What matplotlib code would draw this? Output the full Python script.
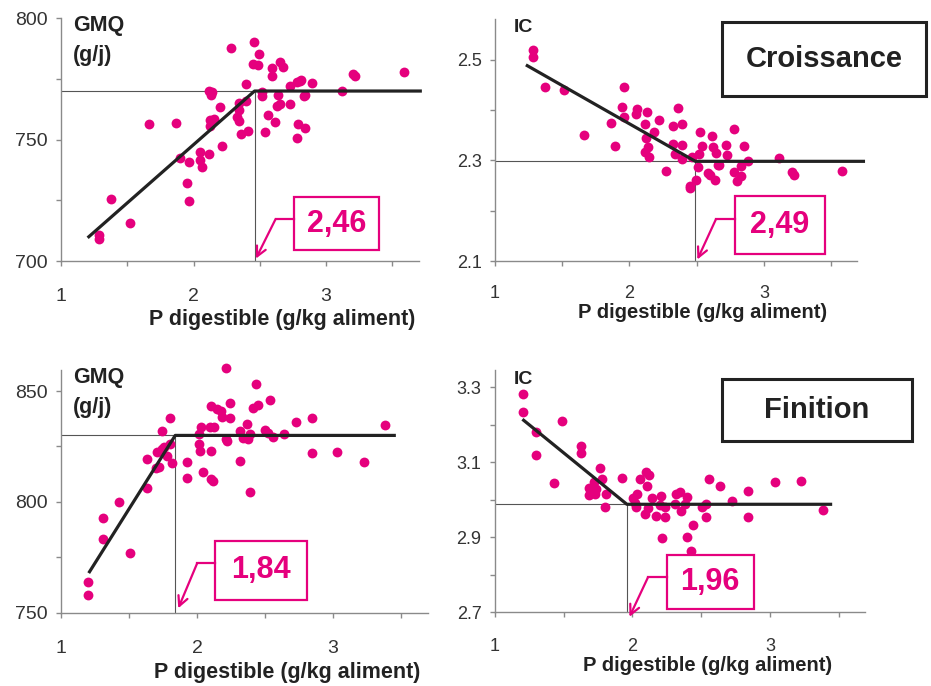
import matplotlib
matplotlib.use('Agg')
from matplotlib import pyplot as plt
from matplotlib.patches import Rectangle

plt.rcParams['font.family'] = ['Liberation Sans', 'DejaVu Sans']

PINK = '#E5007D'
GREY = '#8a8a8a'
TXT = '#333333'

# %% data
# Croissance - GMQ
gc_x = [2.453, 2.285, 2.496, 2.448, 2.486, 2.649, 2.593, 2.674, 2.593, 3.20, 3.22, 3.585,
        2.395, 2.80, 2.81, 2.78, 2.89, 2.724, 3.12, 2.12, 2.137, 2.13, 2.516, 2.513, 2.64,
        2.84, 2.83, 2.197, 2.34, 2.395, 2.626, 2.649, 2.724, 2.34, 2.325, 2.34, 2.127, 2.154,
        2.127, 1.665, 1.868, 2.558, 2.614, 2.787, 2.842, 2.78, 2.54, 2.358, 2.408, 2.217,
        2.051, 2.12, 1.898, 1.966, 2.051, 2.064, 1.954, 1.966, 1.381, 1.524, 1.289, 1.289]
gc_y = [790.0, 787.6, 785.3, 781.2, 780.6, 782.0, 779.3, 779.8, 776.2, 776.9, 776.2, 778.0,
        772.7, 774.2, 774.5, 773.8, 773.2, 772.1, 770.2, 770.2, 769.4, 768.4, 769.4, 767.8, 768.4,
        768.4, 767.8, 763.6, 765.0, 766.1, 763.9, 764.7, 764.7, 762.2, 759.5, 757.8, 758.2, 758.6,
        755.5, 756.3, 756.9, 760.2, 757.1, 756.6, 754.8, 750.7, 753.0, 752.3, 753.7, 747.4,
        745.1, 744.0, 742.4, 740.9, 741.5, 738.9, 732.3, 724.6, 725.7, 715.5, 710.6, 708.9]
gc_fit_x = [1.21, 2.46, 3.71]
gc_fit_y = [710, 770, 770]
gc_break = '2,46'

# Croissance - IC
ic_x = [1.283, 1.283, 1.37, 1.511, 1.96, 1.948, 1.96, 1.665, 1.861, 1.893, 2.057, 2.047,
        2.129, 2.216, 2.112, 2.184, 2.122, 2.136, 2.112, 2.146, 2.36, 2.327, 2.392, 2.327,
        2.335, 2.392, 2.392, 2.27, 2.464, 2.514, 2.506, 2.524, 2.543, 2.613, 2.618, 2.643,
        2.66, 2.72, 2.722, 2.774, 2.849, 2.826, 2.831, 2.777, 2.799, 2.883, 2.583, 2.596,
        2.633, 2.494, 2.447, 2.452, 3.109, 3.206, 3.223, 3.58, 2.667]
ic_y = [2.520, 2.505, 2.446, 2.439, 2.446, 2.406, 2.386, 2.351, 2.374, 2.328, 2.401, 2.392,
        2.395, 2.381, 2.372, 2.357, 2.345, 2.327, 2.317, 2.306, 2.403, 2.368, 2.372, 2.332,
        2.313, 2.331, 2.302, 2.279, 2.306, 2.312, 2.287, 2.357, 2.328, 2.348, 2.326, 2.314,
        2.290, 2.330, 2.310, 2.362, 2.328, 2.288, 2.269, 2.276, 2.259, 2.298, 2.275, 2.271,
        2.261, 2.261, 2.249, 2.245, 2.305, 2.276, 2.270, 2.279, 2.290]
ic_fit_x = [1.24, 2.49, 3.74]
ic_fit_y = [2.488, 2.298, 2.298]
ic_break = '2,49'

# Finition - GMQ
gf_x = [2.212, 2.434, 2.535, 2.102, 2.148, 2.177, 2.241, 2.449, 2.412, 2.182, 2.246, 1.805,
        2.364, 2.726, 2.846, 3.382, 2.028, 2.016, 2.094, 2.126, 1.739, 2.319, 2.498, 2.523,
        2.559, 2.393, 2.339, 2.376, 2.212, 2.217, 2.64, 1.80, 1.756, 1.776, 1.739, 1.703,
        2.016, 2.023, 2.102, 1.632, 1.815, 1.93, 2.319, 2.846, 3.027, 3.23, 1.698, 1.722,
        2.045, 1.93, 2.102, 2.114, 1.632, 2.393, 1.426, 1.311, 1.311, 1.504, 1.201, 1.201]
gf_y = [860.2, 853.0, 846.2, 843.1, 841.9, 841.1, 844.4, 843.7, 842.3, 838.1, 837.8, 837.8,
        835.1, 835.9, 837.8, 834.7, 833.8, 830.6, 833.8, 833.8, 832.0, 832.0, 832.4, 830.9,
        829.2, 830.5, 828.9, 828.3, 828.3, 827.7, 830.5, 826.1, 824.6, 820.5, 823.8, 822.5,
        826.1, 822.8, 822.9, 819.3, 817.4, 818.0, 818.6, 821.9, 822.6, 818.0, 815.4, 815.9,
        813.3, 810.8, 810.2, 809.4, 806.1, 804.6, 800.0, 792.9, 783.1, 777.1, 764.0, 758.0]
gf_fit_x = [1.21, 1.84, 3.45]
gf_fit_y = [768.5, 830, 830]
gf_break = '1,84'

# Finition - IC
if_x = [1.206, 1.206, 1.492, 1.298, 1.298, 1.63, 1.63, 1.427, 1.766, 1.718, 1.778, 1.686,
        1.71, 1.735, 1.686, 1.73, 1.812, 1.798, 1.928, 2.055, 2.10, 2.12, 2.108, 2.033, 2.008,
        2.016, 2.023, 2.142, 2.207, 2.11, 2.093, 2.171, 2.202, 2.234, 2.234, 2.307, 2.316,
        2.343, 2.396, 2.384, 2.355, 2.215, 2.396, 2.44, 2.428, 2.505, 2.535, 2.535, 2.556,
        2.639, 2.724, 2.842, 2.842, 3.034, 3.223, 3.383]
if_y = [3.282, 3.233, 3.211, 3.180, 3.120, 3.144, 3.125, 3.046, 3.086, 3.047, 3.055, 3.031,
        3.022, 3.029, 3.012, 3.016, 3.016, 2.980, 3.057, 3.055, 3.075, 3.066, 3.036, 3.016, 3.006,
        2.991, 2.982, 3.004, 3.009, 2.978, 2.963, 2.958, 2.985, 2.980, 2.954, 2.988, 3.016,
        3.022, 3.007, 2.989, 2.971, 2.898, 2.902, 2.933, 2.864, 2.980, 2.988, 2.954, 3.055,
        3.036, 2.996, 3.023, 2.954, 3.047, 3.051, 2.972]
if_fit_x = [1.21, 1.96, 3.44]
if_fit_y = [3.212, 2.988, 2.988]
if_break = '1,96'

x_ticks = [1, 2, 3]
x_minor = [1.5, 2.5, 3.5]


# %%
def draw_panel(rect, px, py, fit_x, fit_y, brk, xmax, ylim, yticks, ylabels, yminor,
               box, arrow_y, knee_x, tip, fs, xpad, lab_x, lab_off):
	ax = fig.add_axes(rect)
	ax.set_xlim(1, xmax)
	ax.set_ylim(*ylim)
	for s in ['top', 'right']:
		ax.spines[s].set_visible(False)
	for s in ['left', 'bottom']:
		ax.spines[s].set_color(GREY)
		ax.spines[s].set_linewidth(1)
	ax.set_xticks(x_ticks)
	ax.set_xticks(x_minor, minor=True)
	ax.set_yticks(yticks)
	ax.set_yticklabels(ylabels)
	ax.set_yticks(yminor, minor=True)
	ax.tick_params(which='both', direction='out', length=3.5, width=1, color=GREY, labelcolor=TXT,
				   labelsize=fs)
	ax.tick_params(axis='x', pad=xpad)
	ax.tick_params(axis='y', pad=6)

	# guide lines at the break point
	ax.plot([1, fit_x[1]], [fit_y[1], fit_y[1]], color='#555555', lw=0.8, zorder=1)
	ax.plot([fit_x[1], fit_x[1]], [ylim[0], fit_y[1]], color='#555555', lw=0.8, zorder=1)

	ax.scatter(px, py, s=50, color=PINK, linewidths=0, zorder=3, clip_on=False)
	ax.plot(fit_x, fit_y, color='#222222', lw=2.3, zorder=4, clip_on=False)

	# value box with arrow
	bx0, by0, bx1, by1 = box
	ax.add_patch(Rectangle((bx0, by0), bx1 - bx0, by1 - by0, facecolor='white',
						   edgecolor=PINK, lw=1.6, zorder=5))
	ax.text((bx0 + bx1) / 2, (by0 + by1) / 2, brk, color=PINK, fontsize=22, fontweight='bold',
			ha='center', va='center', zorder=6)
	ax.plot([bx0, knee_x], [arrow_y, arrow_y], color=PINK, lw=1.6, zorder=5)
	ax.annotate('', xy=tip, xytext=(knee_x, arrow_y),
				arrowprops=dict(arrowstyle='->,head_length=0.7,head_width=0.35', color=PINK, lw=1.6,
								shrinkA=0, shrinkB=0), zorder=5, annotation_clip=False)

	ax.annotate('P digestible (g/kg aliment)', xy=(lab_x, 0), xycoords='axes fraction',
				xytext=(0, -lab_off), textcoords='offset points', ha='center', va='center',
				fontsize=fs + 1.5, fontweight='bold', color='#222222')
	return ax


fig = plt.figure(figsize=(9.31, 6.86), dpi=100)

ax1 = draw_panel([0.0655, 0.6195, 0.3845, 0.354], gc_x, gc_y, gc_fit_x, gc_fit_y, gc_break,
				 3.70, (700, 800), [700, 750, 800], ['700', '750', '800'], [725, 775],
				 (2.756, 704.5, 3.396, 726.3), 717.3, 2.619, (2.47, 701.0), 14, 16, 0.617, 42)
ax1.text(0.034, 1.012, 'GMQ', transform=ax1.transAxes, fontsize=15.5, fontweight='bold',
		 color='#222222', va='top')
ax1.text(0.034, 0.89, '(g/j)', transform=ax1.transAxes, fontsize=15.5, fontweight='bold',
		 color='#222222', va='top')

ax2 = draw_panel([0.5317, 0.6195, 0.3885, 0.3523], ic_x, ic_y, ic_fit_x, ic_fit_y, ic_break,
				 3.69, (2.1, 2.58), [2.1, 2.3, 2.5], ['2.1', '2.3', '2.5'], [2.2, 2.4],
				 (2.782, 2.114, 3.457, 2.229), 2.183, 2.643, (2.505, 2.103), 13, 14, 0.575, 37)
ax2.text(0.053, 1.0, 'IC', transform=ax2.transAxes, fontsize=14, fontweight='bold',
		 color='#222222', va='top')

ax3 = draw_panel([0.0655, 0.1068, 0.3945, 0.3538], gf_x, gf_y, gf_fit_x, gf_fit_y, gf_break,
				 3.70, (750, 859.5), [750, 800, 850], ['750', '800', '850'], [775, 825],
				 (2.131, 755.7, 2.809, 782.5), 772.3, 2.001, (1.862, 752.0), 14, 16, 0.617, 43)
ax3.text(0.033, 1.012, 'GMQ', transform=ax3.transAxes, fontsize=15.5, fontweight='bold',
		 color='#222222', va='top')
ax3.text(0.033, 0.89, '(g/j)', transform=ax3.transAxes, fontsize=15.5, fontweight='bold',
		 color='#222222', va='top')

ax4 = draw_panel([0.5314, 0.1074, 0.3977, 0.3538], if_x, if_y, if_fit_x, if_fit_y, if_break,
				 3.69, (2.7, 3.347), [2.7, 2.9, 3.1, 3.3], ['2.7', '2.9', '3.1', '3.3'],
				 [2.8, 3.0, 3.2],
				 (2.251, 2.708, 2.881, 2.853), 2.793, 2.113, (1.979, 2.688), 13, 15, 0.576, 38)
ax4.text(0.052, 0.995, 'IC', transform=ax4.transAxes, fontsize=14, fontweight='bold',
		 color='#222222', va='top')

# stage labels
for (x0, y0, w, h, txt) in [(0.7755, 0.860, 0.219, 0.108, 'Croissance'),
							(0.7755, 0.357, 0.204, 0.0904, 'Finition')]:
	fig.patches.append(Rectangle((x0, y0), w, h, transform=fig.transFigure, facecolor='white',
								 edgecolor='#222222', lw=2.2, zorder=10))
	fig.text(x0 + w / 2, y0 + h / 2, txt, fontsize=21, fontweight='bold', color='#222222',
			 ha='center', va='center', zorder=11)

fig.savefig('out.png', dpi=100)
